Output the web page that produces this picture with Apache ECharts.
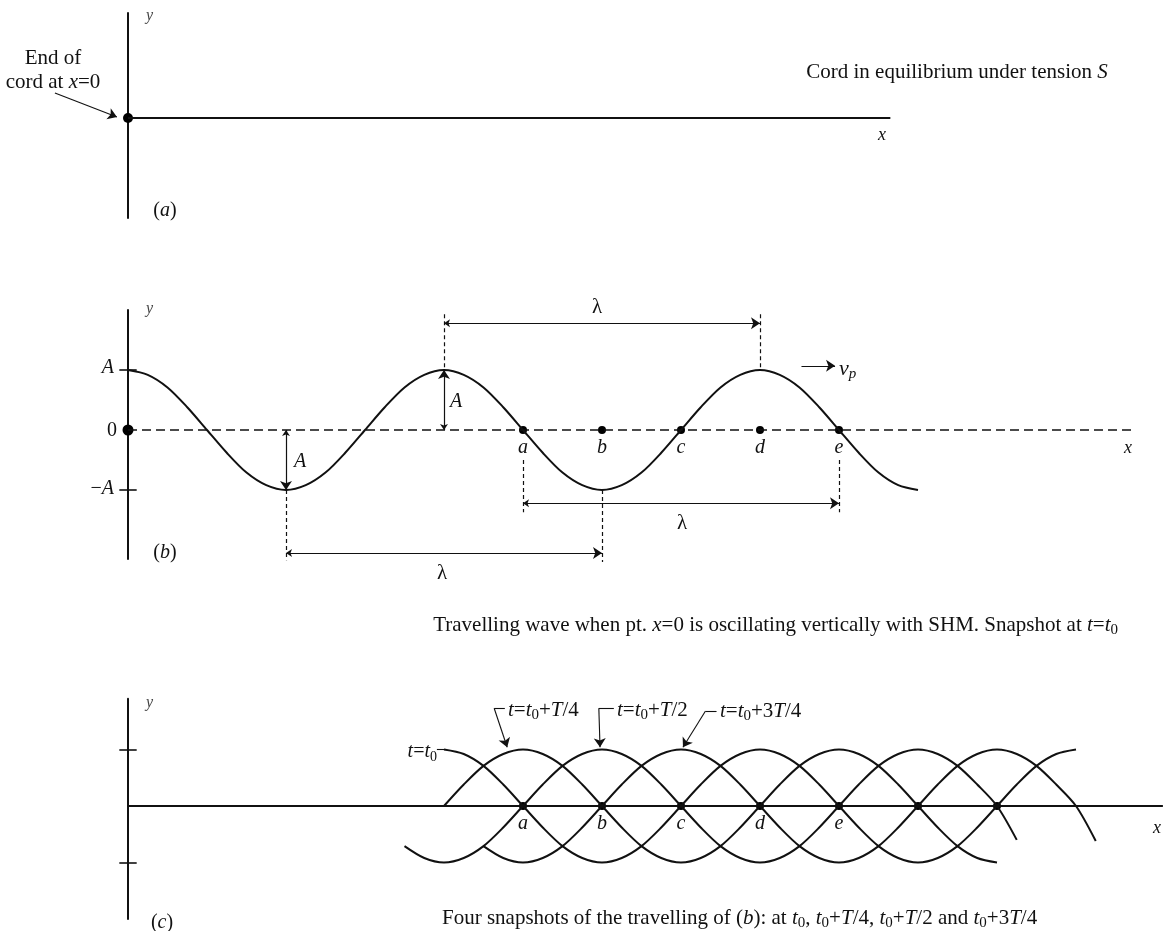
<!DOCTYPE html>
<html>
<head>
<meta charset="utf-8">
<title>Travelling wave on a cord</title>
<script src="https://cdn.jsdelivr.net/npm/echarts@6/dist/echarts.min.js"></script>
<style>
  html, body { margin: 0; padding: 0; background: #fff; }
  #main { width: 1174px; height: 931px; }
</style>
</head>
<body>
<div id="main"></div>
<script>
// x runs in eighths of a wavelength from the cord end, y in amplitudes A.
// wave heights are read every half unit (a sixteenth of a wavelength)
var pointLabels = ['a', 'b', 'c', 'd', 'e'];
var pointsB = [10, 12, 14, 16, 18];
var pointsC = [10, 12, 14, 16, 18, 20, 22];
var yTicks = [1, -1];
var cordA = [[0, 0], [19.3, 0]];
var axisB = [[0, 0], [25.4, 0]];
var axisC = [[0, 0], [26.2, 0]];

// snapshot at t = t0 (panel b), starts at x = 0
var waveBStart = 0;
var waveB = [1, .92, .71, .38, 0, -.38, -.71, -.92, -1, -.92, -.71, -.38, 0, .38, .71, .92,
  1, .92, .71, .38, 0, -.38, -.71, -.92, -1, -.92, -.71, -.38, 0, .38, .71, .92,
  1, .92, .71, .38, 0, -.38, -.71, -.92, -1];

// four snapshots (panel c)
var snapT0Start = 8;
var snapT0 = [1, .92, .71, .38, 0, -.38, -.71, -.92, -1, -.92, -.71, -.38, 0, .38, .71, .92,
  1, .92, .71, .38, 0, -.38, -.71, -.92, -1, -.92, -.71, -.38, 0, .38, .71, .92, 1];
var snapT4Start = 8;
var snapT4 = [0, .38, .71, .92, 1, .92, .71, .38, 0, -.38, -.71, -.92, -1, -.92, -.71, -.38,
  0, .38, .71, .92, 1, .92, .71, .38, 0, -.38, -.71, -.92, -1];
var snapT2Start = 7;
var snapT2 = [-.71, -.92, -1, -.92, -.71, -.38, 0, .38, .71, .92, 1, .92, .71, .38, 0, -.38,
  -.71, -.92, -1, -.92, -.71, -.38, 0, .38, .71, .92, 1, .92, .71, .38, 0, -.6];
var snapT34Start = 9;
var snapT34 = [-.71, -.92, -1, -.92, -.71, -.38, 0, .38, .71, .92, 1, .92, .71, .38, 0, -.38,
  -.71, -.92, -1, -.92, -.71, -.38, 0, .38, .71, .92, 1, .92, .71, .38, 0, -.62];

function pairs(start, ys) {
  return ys.map(function (y, k) { return [start + k * 0.5, y]; });
}

var INK = '#111';
var SERIF = "'Liberation Serif', 'DejaVu Serif', serif";

function richStyles(size) {
  var sub = Math.round(size * 0.7);
  var base = {fontFamily: SERIF, fontSize: size, lineHeight: size + 4, fill: INK, color: INK};
  return {
    r: base,
    i: Object.assign({}, base, {fontStyle: 'italic'}),
    s: {fontFamily: SERIF, fontSize: sub, lineHeight: sub, verticalAlign: 'bottom', fill: INK, color: INK},
    si: {fontFamily: SERIF, fontSize: sub, fontStyle: 'italic', lineHeight: sub, verticalAlign: 'bottom', fill: INK, color: INK},
    g: Object.assign({}, base, {fontStyle: 'italic', fill: '#444', color: '#444'})
  };
}
function T(x, y, text, size, align) {
  return {
    type: 'text', x: x, y: y, silent: true,
    style: {text: text, rich: richStyles(size), align: align || 'center', verticalAlign: 'middle', fill: INK}
  };
}

function curve(data, gi, extra) {
  return Object.assign({
    type: 'line', xAxisIndex: gi, yAxisIndex: gi, data: data, symbol: 'none', showSymbol: false,
    smooth: 0.3, clip: false, silent: true, lineStyle: {color: INK, width: 2}
  }, extra || {});
}
function segs(list, gi, extra) {
  return Object.assign({
    type: 'lines', coordinateSystem: 'cartesian2d', xAxisIndex: gi, yAxisIndex: gi, clip: false, silent: true,
    data: list.map(function (c) { return {coords: c}; }),
    symbol: ['none', 'none'], symbolSize: 8,
    lineStyle: {color: INK, width: 1.3, opacity: 1, curveness: 0}
  }, extra || {});
}
function dots(xs, gi, size, labels) {
  return {
    type: 'scatter', xAxisIndex: gi, yAxisIndex: gi, clip: false, silent: true, symbolSize: size,
    itemStyle: {color: '#000', opacity: 1},
    data: xs.map(function (x, k) { return {value: [x, 0], name: labels ? (labels[k] || '') : ''}; }),
    label: {
      show: !!labels, position: 'bottom', distance: 4, formatter: '{b}',
      fontFamily: SERIF, fontStyle: 'italic', fontSize: 20, color: INK
    }
  };
}
function tickSegs(gi) {
  return segs(yTicks.map(function (v) { return [[-0.22, v], [0.22, v]]; }), gi, {lineStyle: {color: INK, width: 1.6, opacity: 1}});
}

var gridW = 26.2 * 39.5;
var yAxisBase = {
  type: 'value', axisLine: {show: true, onZero: false, lineStyle: {color: INK, width: 2}},
  axisTick: {show: false}, axisLabel: {show: false}, splitLine: {show: false}
};
var arrowStyle = {color: INK, width: 1.2, opacity: 1};

var option = {
  animation: false,
  backgroundColor: '#fff',
  grid: [
    {left: 128, width: gridW, top: 13, height: 205},
    {left: 128, width: gridW, top: 310, height: 249},
    {left: 128, width: gridW, top: 698.65, height: 220.35}
  ],
  xAxis: [0, 1, 2].map(function (i) {
    return {type: 'value', gridIndex: i, min: 0, max: 26.2, show: false};
  }),
  yAxis: [
    Object.assign({gridIndex: 0, min: -1, max: 1.05}, yAxisBase),
    Object.assign({gridIndex: 1, min: -2.15, max: 2.0}, yAxisBase),
    Object.assign({gridIndex: 2, min: -2.0, max: 1.9}, yAxisBase)
  ],
  series: [
    // (a) cord at rest
    curve(cordA, 0, {smooth: false}),
    dots([0], 0, 10),
    segs([[[-1.85, 0.25], [-0.28, 0.01]]], 0, {symbol: ['none', 'arrow'], symbolSize: [6, 9], lineStyle: {color: INK, width: 1.1, opacity: 1}}),

    // (b) snapshot at t0
    curve(axisB, 1, {smooth: false, lineStyle: {color: INK, width: 1.5, type: [9, 5]}}),
    curve(pairs(waveBStart, waveB), 1),
    dots([0], 1, 11),
    dots(pointsB, 1, 8, pointLabels),
    tickSegs(1),
    segs([
      [[8, 1.93], [8, 1]], [[16, 1.93], [16, 1]],
      [[4, -1], [4, -2.17]], [[12, -1], [12, -2.2]],
      [[10, -0.5], [10, -1.37]], [[18, -0.5], [18, -1.37]]
    ], 1, {lineStyle: {color: INK, width: 1.2, opacity: 1, type: [4, 3]}}),
    segs([
      [[8, 1.78], [16, 1.78]], [[8, 0], [8, 1]], [[4, 0], [4, -1]],
      [[4, -2.05], [12, -2.05]], [[10, -1.22], [18, -1.22]]
    ], 1, {symbol: ['arrow', 'arrow'], symbolSize: [6, 9], lineStyle: arrowStyle}),
    segs([[[17.05, 1.07], [17.9, 1.07]]], 1, {symbol: ['none', 'arrow'], symbolSize: [6, 9], lineStyle: arrowStyle}),

    // (c) four snapshots
    curve(axisC, 2, {smooth: false}),
    curve(pairs(snapT0Start, snapT0), 2),
    curve(pairs(snapT4Start, snapT4), 2),
    curve(pairs(snapT2Start, snapT2), 2),
    curve(pairs(snapT34Start, snapT34), 2),
    dots(pointsC, 2, 8, pointLabels),
    tickSegs(2),
    segs([
      [[7.82, 1], [8.05, 1]],
      [[9.54, 1.73], [9.27, 1.73]],
      [[12.3, 1.73], [11.92, 1.73]],
      [[14.9, 1.68], [14.62, 1.68]]
    ], 2, {lineStyle: {color: INK, width: 1.1, opacity: 1}}),
    segs([
      [[9.27, 1.73], [9.6, 1.04]],
      [[11.92, 1.73], [11.95, 1.04]],
      [[14.62, 1.68], [14.05, 1.04]]
    ], 2, {symbol: ['none', 'arrow'], symbolSize: [6, 9], lineStyle: {color: INK, width: 1.1, opacity: 1}})
  ],
  graphic: [
    // (a)
    T(146, 16, '{g|y}', 16, 'left'),
    T(53, 58, '{r|End of}', 21),
    T(53, 82, '{r|cord at }{i|x}{r|=0}', 21),
    T(165, 211, '{r|(}{i|a}{r|)}', 20),
    T(882, 135, '{i|x}', 18),
    T(957, 72, '{r|Cord in equilibrium under tension }{i|S}', 21),
    // (b)
    T(146, 309, '{g|y}', 16, 'left'),
    T(114, 368, '{i|A}', 20, 'right'),
    T(117, 431, '{r|0}', 20, 'right'),
    T(114, 489, '{r|\u2212}{i|A}', 20, 'right'),
    T(165, 553, '{r|(}{i|b}{r|)}', 20),
    T(597, 307, '{r|\u03bb}', 21),
    T(682, 523, '{r|\u03bb}', 21),
    T(442, 573, '{r|\u03bb}', 21),
    T(456, 402, '{i|A}', 20),
    T(300, 462, '{i|A}', 20),
    T(839, 369, '{i|v}{si|p}', 22, 'left'),
    T(1128, 448, '{i|x}', 18),
    T(1118, 625, '{r|Travelling wave when pt. }{i|x}{r|=0 is oscillating vertically with SHM. Snapshot at }{i|t}{r|=}{i|t}{s|0}', 21, 'right'),
    // (c)
    T(146, 703, '{g|y}', 16, 'left'),
    T(162, 923, '{r|(}{i|c}{r|)}', 20),
    T(1157, 828, '{i|x}', 18),
    T(437, 752, '{i|t}{r|=}{i|t}{s|0}', 20, 'right'),
    T(508, 710, '{i|t}{r|=}{i|t}{s|0}{r|+}{i|T}{r|/4}', 21, 'left'),
    T(617, 710, '{i|t}{r|=}{i|t}{s|0}{r|+}{i|T}{r|/2}', 21, 'left'),
    T(720, 711, '{i|t}{r|=}{i|t}{s|0}{r|+3}{i|T}{r|/4}', 21, 'left'),
    T(442, 918, '{r|Four snapshots of the travelling of (}{i|b}{r|): at }{i|t}{s|0}{r|, }{i|t}{s|0}{r|+}{i|T}{r|/4, }{i|t}{s|0}{r|+}{i|T}{r|/2 and }{i|t}{s|0}{r|+3}{i|T}{r|/4}', 21, 'left')
  ]
};

var chart = echarts.init(document.getElementById('main'));
chart.setOption(option);
</script>
</body>
</html>
